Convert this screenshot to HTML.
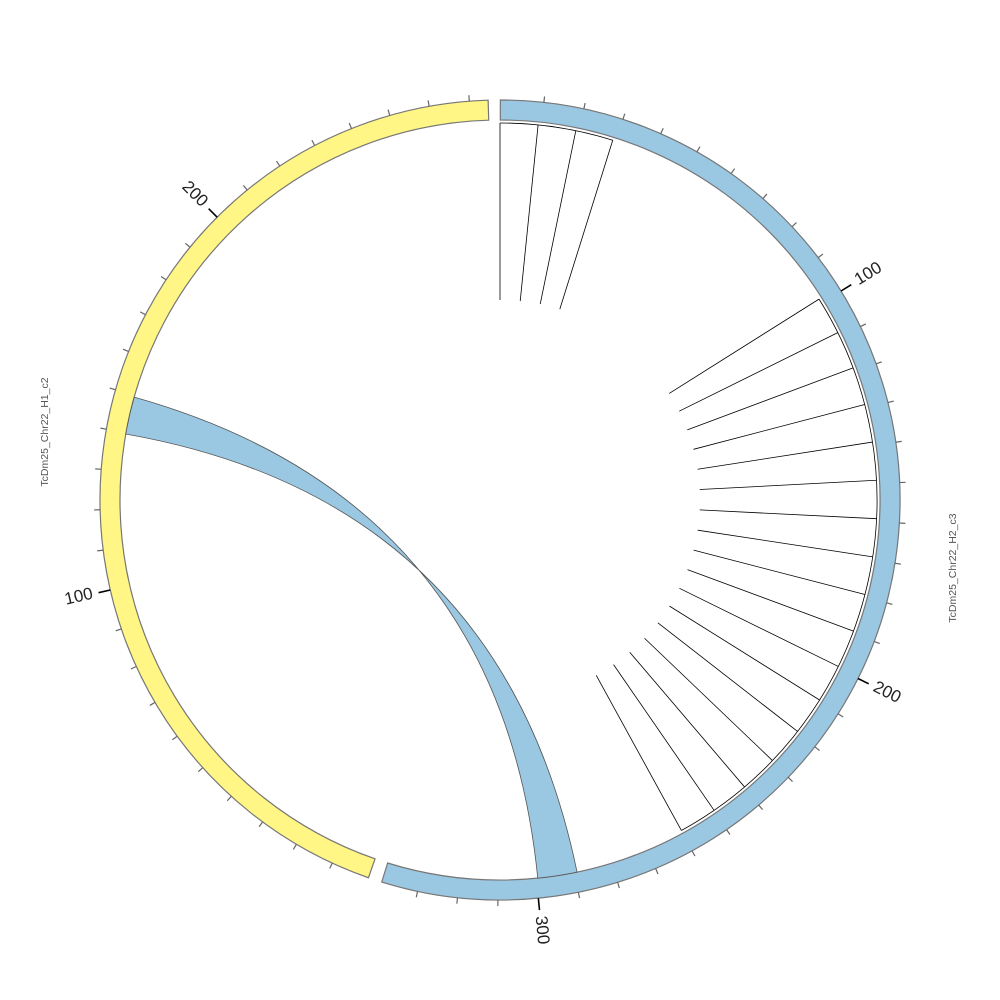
<!DOCTYPE html>
<html><head><meta charset="utf-8"><style>html,body{margin:0;padding:0;background:#fff;width:1000px;height:1000px;overflow:hidden}</style></head>
<body>
<svg id="s" width="1000" height="1000" xmlns="http://www.w3.org/2000/svg" font-family="Liberation Sans, sans-serif"></svg>
<script>
const s=document.getElementById('s');const cx=500,cy=500,R=400,r=380,ri=377;
const rad=d=>d*Math.PI/180;
const P=(a,rr)=>[cx+rr*Math.sin(rad(a)),cy-rr*Math.cos(rad(a))];
const f=p=>p[0].toFixed(2)+' '+p[1].toFixed(2);
let h='';
function seg(a1,a2,fill){
 const la=(a2-a1)>180?1:0;
 h+=`<path d="M${f(P(a1,R))} A${R} ${R} 0 ${la} 1 ${f(P(a2,R))} L${f(P(a2,r))} A${r} ${r} 0 ${la} 0 ${f(P(a1,r))} Z" fill="${fill}" stroke="#777" stroke-width="1.2"/>`;
}
seg(0.05,197.2,'#9ac7e1');
seg(199.2,358.3,'#fff685');
function ticks(start,maxv,flip){
 for(let v=0;v<=maxv;v+=10){
  if(v==0)continue;
  const a=start+0.58*v;const major=v%100==0;
  h+=`<line x1="${P(a,R)[0]}" y1="${P(a,R)[1]}" x2="${P(a,major?412:406)[0]}" y2="${P(a,major?412:406)[1]}" stroke="${major?'#000':'#666'}" stroke-width="${major?1.6:1.2}"/>`;
  if(major){
   const p=P(a,418);let rot=a-90;
   if(flip){rot=a-270;h+=`<text x="${p[0]}" y="${p[1]}" font-size="17" fill="#222" text-anchor="end" dominant-baseline="middle" transform="rotate(${rot} ${p[0]} ${p[1]})">${v}</text>`;}
   else h+=`<text x="${p[0]}" y="${p[1]}" font-size="17" fill="#222" text-anchor="start" dominant-baseline="middle" transform="rotate(${rot} ${p[0]} ${p[1]})">${v}</text>`;
  }
 }
}
ticks(0.5,330,false);
ticks(199,270,true);
const y1=P(280,r),y2=P(285.7,r),b1=P(168.3,r),b2=P(174.3,r);
h+=`<path d="M${f(y1)} Q${cx} ${cy} ${f(b1)} A${r} ${r} 0 0 1 ${f(b2)} Q${cx} ${cy} ${f(y2)} A${r} ${r} 0 0 0 ${f(y1)} Z" fill="#9ac7e1" stroke="#555" stroke-width="0.8"/>`;
function group(angles){
 const a1=angles[0],a2=angles[angles.length-1];
 h+=`<path d="M${f(P(a1,ri))} A${ri} ${ri} 0 0 1 ${f(P(a2,ri))}" fill="none" stroke="#000" stroke-width="0.8"/>`;
 for(const a of angles){const p=P(a,ri),q=P(a,200);
  h+=`<line x1="${p[0]}" y1="${p[1]}" x2="${q[0]}" y2="${q[1]}" stroke="#000" stroke-width="0.8"/>`;}
}
group([0,5.8,11.6,17.4]);
let g=[];for(let k=0;k<17;k++)g.push(57.8+5.84*k);group(g);
h+=`<text x="48" y="432" font-size="10.5" fill="#555" text-anchor="middle" transform="rotate(-90 48 432)">TcDm25_Chr22_H1_c2</text>`;
h+=`<text x="956" y="568" font-size="10.5" fill="#555" text-anchor="middle" transform="rotate(-90 956 568)">TcDm25_Chr22_H2_c3</text>`;
s.innerHTML=h;
</script>
</body></html>
